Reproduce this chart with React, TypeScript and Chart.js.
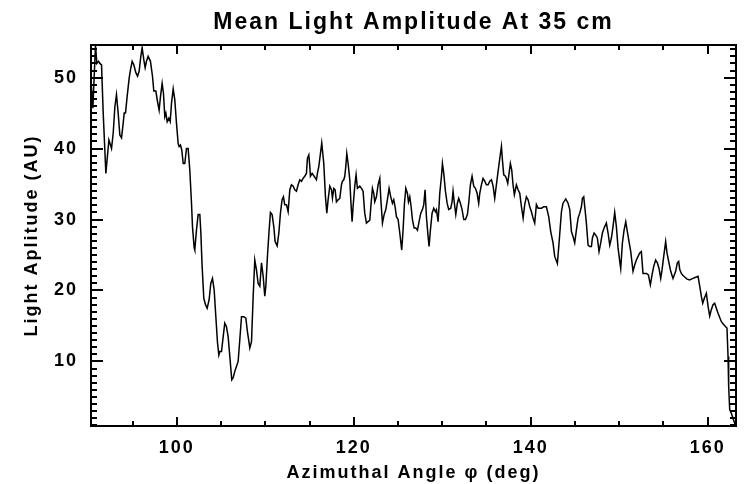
import React, { useEffect, useRef } from "react";
import { Chart, registerables } from "chart.js";

Chart.register(...registerables);

// Azimuthal angle (deg)
const angles: number[] = [
  90.32, 90.51, 90.81, 90.96, 91.15, 91.30, 91.49, 91.68, 91.98, 92.32, 92.50, 92.62, 92.81, 93.00, 93.18, 93.37,
  93.56, 93.75, 93.94, 94.05, 94.20, 94.39, 94.61, 94.76, 94.95, 95.14, 95.37, 95.56, 95.74, 95.93, 96.08, 96.27,
  96.42, 96.57, 96.76, 97.02, 97.25, 97.40, 97.63, 97.82, 98.00, 98.15, 98.34, 98.49, 98.64, 98.76, 98.91, 99.10,
  99.25, 99.40, 99.59, 99.77, 99.96, 100.15, 100.26, 100.41, 100.56, 100.72, 100.90, 101.09, 101.28, 101.47, 101.66,
  101.77, 101.96, 102.03, 102.22, 102.41, 102.60, 102.71, 102.86, 103.05, 103.24, 103.43, 103.65, 103.84, 104.03,
  104.22, 104.41, 104.60, 104.75, 104.86, 105.05, 105.24, 105.42, 105.61, 105.80, 105.99, 106.21, 106.37, 106.55,
  106.74, 106.93,
  107.12, 107.31, 107.57, 107.80, 107.98, 108.25, 108.44, 108.63, 108.81, 109.00, 109.19, 109.38, 109.57, 109.76,
  109.94, 110.06, 110.24, 110.43, 110.58, 110.77, 110.96, 111.11, 111.34, 111.53, 111.71, 111.90, 112.05, 112.20,
  112.39, 112.58, 112.77, 112.96, 113.15, 113.33, 113.52, 113.71, 113.90, 114.09, 114.27, 114.46, 114.65, 114.76,
  114.92, 115.03, 115.10, 115.29, 115.52, 115.78, 115.89, 116.05, 116.23, 116.38, 116.61, 116.80, 116.95, 117.10,
  117.29, 117.48, 117.59, 117.74, 117.89, 118.04, 118.23, 118.42, 118.61, 118.72, 118.87, 118.98, 119.10, 119.21,
  119.36, 119.55, 119.66, 119.81, 119.92, 120.11, 120.26, 120.41, 120.68, 120.87, 121.05, 121.24, 121.43, 121.62,
  121.81, 121.96, 122.11, 122.26, 122.37, 122.56, 122.75, 122.94,
  123.05, 123.24, 123.43, 123.62, 123.80, 123.99, 124.18, 124.37, 124.52, 124.67, 124.82, 125.01, 125.20, 125.42,
  125.57, 125.73, 125.88, 126.06, 126.18, 126.33, 126.48, 126.63, 126.82, 127.01, 127.20, 127.38, 127.57, 127.76,
  127.91, 128.06, 128.21, 128.40, 128.51, 128.66, 128.85, 129.04, 129.23, 129.34, 129.53, 129.72, 129.91, 130.02,
  130.17, 130.36, 130.55, 130.73, 130.96, 131.11, 131.22, 131.37, 131.53, 131.71, 131.86, 132.05, 132.24, 132.43,
  132.62, 132.84, 132.99, 133.18, 133.37, 133.56, 133.75, 133.94, 134.12, 134.24, 134.43, 134.61, 134.80, 134.99,
  135.18, 135.37, 135.56, 135.75, 135.93, 136.12, 136.31, 136.50, 136.69, 136.80, 136.95, 137.14, 137.25, 137.40,
  137.55, 137.70, 137.85, 138.00, 138.15, 138.38, 138.57, 138.76, 138.95, 139.14, 139.32, 139.51, 139.70, 139.89,
  140.08, 140.26, 140.45, 140.64, 140.83, 141.02,
  141.21, 141.47, 141.77, 142.03, 142.26, 142.52, 142.71, 143.01, 143.20, 143.47, 143.65, 143.96, 144.22, 144.41,
  144.60, 144.78, 144.97, 145.16, 145.35, 145.54, 145.73, 145.84, 145.99, 146.14, 146.29, 146.48, 146.67, 146.86,
  146.97, 147.16, 147.35, 147.53, 147.72, 147.91, 148.10, 148.29, 148.55, 148.74, 148.93, 149.12, 149.30, 149.49,
  149.68, 149.87, 150.06, 150.17, 150.36, 150.55, 150.74, 150.92, 151.11, 151.30, 151.56, 151.75, 151.94, 152.13,
  152.32, 152.50, 152.69, 152.88, 153.07, 153.30, 153.52, 153.71, 153.90, 154.12, 154.31, 154.50, 154.69, 154.84,
  155.03, 155.25, 155.40, 155.59, 155.82, 156.08, 156.38, 156.57, 156.72, 156.84, 157.02, 157.21, 157.40, 157.67,
  157.97, 158.34, 158.72, 158.91, 159.10, 159.28, 159.44, 159.62, 159.85, 160.04, 160.23, 160.41, 160.60, 160.79,
  160.98, 161.17, 161.36,
  161.55, 161.73, 162.03, 162.18, 162.30, 162.37, 162.49, 162.67, 162.86, 163.13,
];

// Mean light amplitude (AU)
const amplitude: number[] = [
  49.2, 45.7, 54.6, 52.0, 52.3, 52.0, 51.8, 45.0, 36.5, 41.2, 40.5, 40.0, 42.2, 45.9, 47.6, 45.0,
  41.9, 41.5, 43.6, 45.0, 45.0, 47.4, 49.9, 51.1, 52.3, 51.8, 50.7, 50.2, 50.9, 53.0, 54.2, 52.5,
  51.4, 52.3, 53.0, 52.3, 50.2, 48.1, 48.1, 46.6, 45.4, 47.3, 49.2, 47.8, 44.5, 45.0, 43.8, 44.3,
  43.8, 46.4, 48.4, 46.9, 43.6, 40.7, 40.3, 40.5, 39.8, 37.9, 37.9, 40.0, 40.0, 36.9, 32.3,
  29.0, 26.0, 25.7, 28.5, 30.7, 30.7, 28.3, 23.4, 18.9, 18.0, 17.5, 18.7, 21.0, 21.7,
  20.1, 16.3, 12.6, 10.9, 11.4, 11.4, 13.5, 15.4, 14.9, 13.5, 10.7, 7.4, 7.7, 8.6,
  9.3, 10.0,
  13.1, 16.3, 16.3, 16.1, 14.2, 11.9, 12.8, 19.2, 24.3, 22.9, 21.0, 20.6, 23.9, 22.0,
  19.2, 20.6, 24.8, 28.5, 31.0, 30.7, 29.0, 26.9, 26.3, 28.1, 30.9, 32.8, 33.2, 32.1,
  32.1, 31.1, 34.2, 34.9, 34.7, 34.2, 34.0, 34.9, 35.6, 35.4, 35.8, 36.1, 36.5, 38.6,
  39.1, 37.5, 36.1, 36.5, 36.1, 35.6, 36.5, 37.5, 39.3, 40.8, 37.9, 33.2, 30.9, 32.8,
  34.7, 34.2, 33.0, 34.4, 34.2, 32.5, 32.8, 33.0, 34.9, 35.4, 35.6, 36.1, 37.5, 39.3,
  37.9, 35.6, 32.8, 29.7, 31.8, 34.7, 36.3, 34.4, 34.7, 34.4, 34.0, 30.9, 29.5, 29.7,
  29.9, 32.3, 34.4, 33.7, 32.5, 33.2, 34.9, 35.8,
  33.0, 29.5, 30.7, 31.4, 32.8, 34.4, 33.2, 32.3, 32.8, 31.8, 30.4, 30.0, 28.1, 25.7,
  28.5, 32.3, 34.4, 33.7, 32.5, 33.2, 31.8, 30.0, 28.8, 28.8, 28.5, 29.7, 30.9, 31.4,
  32.1, 34.2, 30.4, 27.6, 26.2, 28.5, 30.9, 31.6, 31.1, 31.4, 29.7, 33.7, 36.1, 37.9,
  36.5, 34.0, 32.3, 31.4, 31.6, 32.5, 34.0, 32.3, 30.7, 32.3, 33.0, 32.3, 31.4, 30.0,
  30.0, 30.7, 32.3, 34.9, 36.1, 34.7, 34.4, 33.7, 32.3, 33.7, 34.9, 35.8, 35.4, 34.9,
  34.9, 35.4, 35.6, 34.7, 33.0, 34.9, 36.8, 38.6, 40.3, 38.4, 36.3, 36.1, 35.8, 35.1,
  36.5, 37.9, 37.0, 34.9, 33.5, 34.9, 34.2, 33.7, 31.8, 30.2, 32.1, 33.2, 32.8, 31.8,
  31.1, 30.2, 29.5, 32.1, 31.6, 31.6,
  31.6, 31.8, 31.8, 30.4, 28.3, 26.7, 24.8, 23.8, 26.7, 31.1, 32.3, 32.9, 32.3, 31.4,
  28.3, 27.6, 26.7, 28.5, 30.2, 30.9, 31.8, 33.0, 33.2, 31.4, 29.5, 26.4, 26.2, 26.2,
  27.4, 28.1, 27.8, 27.4, 25.5, 26.7, 28.1, 28.8, 29.5, 28.1, 26.4, 27.4, 29.0, 31.0,
  29.0, 26.0, 24.1, 23.1, 26.7, 28.5, 29.7, 28.3, 26.9, 25.5, 22.7, 23.6, 24.3, 24.8,
  25.3, 25.5, 22.4, 22.4, 22.4, 22.2, 20.8, 22.2, 23.4, 24.3, 23.9, 23.1, 21.7, 22.9,
  24.8, 26.9, 25.3, 24.1, 22.7, 21.7, 22.7, 23.9, 24.1, 23.0, 22.4, 22.1, 21.9, 21.6,
  21.5, 21.7, 21.9, 22.0, 20.6, 19.2, 18.2, 18.9, 19.6, 17.8, 16.4, 17.3, 18.0, 18.2,
  17.5, 16.8, 16.2,
  15.6, 15.3, 14.9, 14.7, 10.7, 6.5, 3.2, 2.7, 2.0, 1.0,
];

const X_MIN = 90.3;
const X_MAX = 163.2;
const Y_MIN = 0.9;
const Y_MAX = 54.6;
const X_MAJOR = 20;
const X_MINOR = 5;
const Y_MAJOR = 10;
const Y_MINOR = 1;

const TITLE = "Mean Light Amplitude At 35 cm";
const X_TITLE = "Azimuthal Angle \u03c6 (deg)";
const Y_TITLE = "Light Aplitude (AU)";

const FAMILY = "'Liberation Sans', Arial, Helvetica, sans-serif";
const BLACK = "#000000";

// IDL-style box: frame plus inward major/minor tick marks on all four sides,
// positioned through the chart's own scales.
const boxTicksPlugin = {
  id: "boxTicks",
  afterDatasetsDraw(chart: any) {
    const ctx: CanvasRenderingContext2D = chart.ctx;
    const a = chart.chartArea;
    const xs = chart.scales.x;
    const ys = chart.scales.y;
    const L = Math.round(a.left);
    const R = Math.round(a.right);
    const T = Math.round(a.top);
    const B = Math.round(a.bottom);
    ctx.save();
    ctx.fillStyle = BLACK;
    ctx.fillRect(L - 1, T - 1, R - L + 2, 2);
    ctx.fillRect(L - 1, B - 1, R - L + 2, 2);
    ctx.fillRect(L - 1, T - 1, 2, B - T + 2);
    ctx.fillRect(R - 1, T - 1, 2, B - T + 2);
    const marks = (scale: any, step: number, len: number, horizontal: boolean) => {
      const k0 = Math.ceil(scale.min / step - 1e-9);
      const k1 = Math.floor(scale.max / step + 1e-9);
      for (let k = k0; k <= k1; k++) {
        const p = Math.round(scale.getPixelForValue(k * step));
        if (horizontal) {
          ctx.fillRect(p - 1, B - len, 2, len);
          ctx.fillRect(p - 1, T, 2, len);
        } else {
          ctx.fillRect(L, p - 1, len, 2);
          ctx.fillRect(R - len, p - 1, len, 2);
        }
      }
    };
    marks(xs, X_MINOR, 5, true);
    marks(xs, X_MAJOR, 9, true);
    marks(ys, Y_MINOR, 6, false);
    marks(ys, Y_MAJOR, 12, false);
    ctx.restore();
  },
};

const spacingPlugin = {
  id: "letterSpacing",
  beforeUpdate(chart: any) {
    chart.ctx.letterSpacing = "2px";
  },
  beforeDraw(chart: any) {
    chart.ctx.letterSpacing = "2px";
  },
};

export default function App() {
  const ref = useRef<HTMLCanvasElement | null>(null);

  useEffect(() => {
    document.body.style.margin = "0";
    const canvas = ref.current;
    if (!canvas) return;
    const points = angles.map((x, i) => ({ x, y: amplitude[i] }));
    const chart = new Chart(canvas, {
      type: "line",
      data: {
        datasets: [
          { data: points, borderColor: BLACK, borderWidth: 1.5, pointRadius: 0, tension: 0, fill: false },
        ],
      },
      options: {
        animation: false,
        responsive: false,
        devicePixelRatio: 1,
        layout: { padding: { left: 0, right: 9, top: 0, bottom: 0 } },
        plugins: {
          legend: { display: false },
          tooltip: { enabled: false },
          title: {
            display: true,
            text: TITLE,
            color: BLACK,
            fullSize: false,
            font: { family: FAMILY, size: 23, weight: "bold" },
            padding: { top: 8.7, bottom: 8.7 },
          },
        },
        scales: {
          x: {
            type: "linear",
            position: "bottom",
            min: X_MIN,
            max: X_MAX,
            afterFit: (s: any) => { s.height = 58; },
            border: { display: false },
            grid: { display: false, drawTicks: false, drawOnChartArea: false },
            ticks: {
              stepSize: X_MAJOR, includeBounds: false, autoSkip: false, maxRotation: 0, padding: 11.5,
              color: BLACK, font: { family: FAMILY, size: 18, weight: "bold" },
            },
            title: {
              display: true, text: X_TITLE, color: BLACK,
              font: { family: FAMILY, size: 18, weight: "bold" }, padding: { top: 0, bottom: 0 },
            },
          },
          y: {
            type: "linear",
            position: "left",
            min: Y_MIN,
            max: Y_MAX,
            afterFit: (s: any) => { s.width = 91; },
            border: { display: false },
            grid: { display: false, drawTicks: false, drawOnChartArea: false },
            ticks: {
              stepSize: Y_MAJOR, includeBounds: false, autoSkip: false, padding: 13,
              color: BLACK, font: { family: FAMILY, size: 18, weight: "bold" },
            },
            title: {
              display: true, text: Y_TITLE, color: BLACK,
              font: { family: FAMILY, size: 18, weight: "bold" }, padding: { top: 21, bottom: 0 },
            },
          },
        } as any,
      },
      plugins: [boxTicksPlugin, spacingPlugin],
    } as any);
    return () => chart.destroy();
  }, []);

  return (
    <div style={{ width: 745, height: 484, background: "#ffffff" }}>
      <canvas ref={ref} width={745} height={484} style={{ display: "block" }} />
    </div>
  );
}
